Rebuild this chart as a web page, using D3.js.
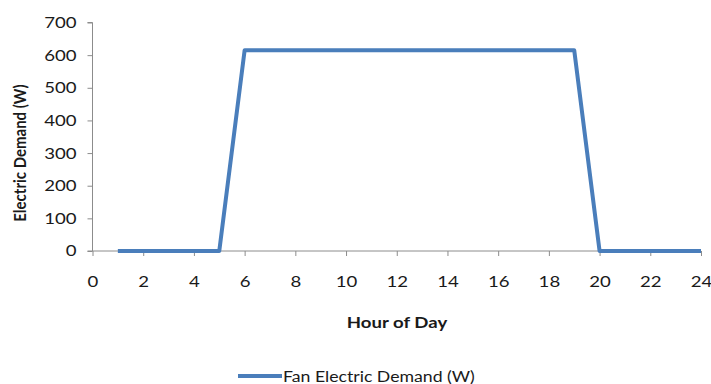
<!DOCTYPE html>
<html>
<head>
<meta charset="utf-8">
<script src="https://cdn.jsdelivr.net/npm/d3@7"></script>
<style>
  html, body { margin: 0; padding: 0; background: #fff; }
  svg { display: block; }
  text { font-family: Lato, "Open Sans", sans-serif; fill: #1a1a1a; }
</style>
</head>
<body>
<svg id="chart" width="711" height="384"></svg>
<script>
// Hourly fan electric demand (W)
const hours = [1, 2, 3, 4, 5, 6, 7, 8, 9, 10, 11, 12, 13, 14, 15, 16, 17, 18, 19, 20, 21, 22, 23, 24];
const demand = [0, 0, 0, 0, 0, 615, 615, 615, 615, 615, 615, 615, 615, 615, 615, 615, 615, 615, 615, 0, 0, 0, 0, 0];
const xTicks = [0, 2, 4, 6, 8, 10, 12, 14, 16, 18, 20, 22, 24];
const yTicks = [0, 100, 200, 300, 400, 500, 600, 700];
const seriesName = "Fan Electric Demand (W)";

const svg = d3.select("#chart");
const plot = { left: 92.5, right: 701, top: 22.5, bottom: 251 };
const stretch = 1.2;   // horizontal widening of the lettering
const fontSize = "15.5px";

const x = d3.scaleLinear().domain([0, 24]).range([plot.left, plot.right]);
const y = d3.scaleLinear().domain([0, 700]).range([plot.bottom, plot.top]);

const axisColor = "#8c8c8c";

// Widen a text element horizontally about its own anchor point
function widen(sel, k = stretch) {
  sel.each(function () {
    const t = d3.select(this);
    const tx = +t.attr("x") || 0;
    const ty = +t.attr("y") || 0;
    t.attr("x", 0).attr("y", 0)
     .attr("transform", `translate(${tx},${ty}) scale(${k},1)`);
  });
}

// Y axis
const yAxis = svg.append("g")
  .attr("transform", `translate(${plot.left},0)`)
  .call(d3.axisLeft(y).tickValues(yTicks).tickSize(5).tickPadding(11));
yAxis.select(".domain").attr("stroke", axisColor).attr("d", `M-5,${plot.top}H0V${plot.bottom}`);
yAxis.selectAll(".tick line").attr("stroke", axisColor);
yAxis.selectAll(".tick text").style("font-size", fontSize).attr("fill", "#1a1a1a").call(widen);

// X axis
const xAxis = svg.append("g")
  .attr("transform", `translate(0,${plot.bottom})`)
  .call(d3.axisBottom(x).tickValues(xTicks).tickSize(5).tickPadding(20));
xAxis.select(".domain").attr("stroke", axisColor).attr("d", `M${plot.left - 5},0H${plot.right}`);
xAxis.selectAll(".tick line").attr("stroke", axisColor);
xAxis.selectAll(".tick text").style("font-size", fontSize).attr("fill", "#1a1a1a").call(widen);

// Series line
const line = d3.line().x((d, i) => x(hours[i])).y(d => y(d));
svg.append("path")
  .datum(demand)
  .attr("fill", "none")
  .attr("stroke", "#4a7ebb")
  .attr("stroke-width", 4)
  .attr("stroke-linejoin", "round")
  .attr("d", line);

// Axis titles
svg.append("text")
  .attr("x", 397).attr("y", 328)
  .attr("text-anchor", "middle")
  .style("font-size", fontSize).style("font-weight", "bold")
  .text("Hour of Day")
  .call(widen);

svg.append("text")
  .attr("transform", "translate(26,153) rotate(-90) scale(1,1.15)")
  .attr("text-anchor", "middle")
  .style("font-size", "15px").style("font-weight", "bold")
  .text("Electric Demand (W)");

// Legend
const legend = svg.append("g").attr("transform", "translate(238,376)");
legend.append("line")
  .attr("x1", 0).attr("x2", 44).attr("y1", 0).attr("y2", 0)
  .attr("stroke", "#4a7ebb").attr("stroke-width", 4);
legend.append("text")
  .attr("x", 45).attr("y", 5.5)
  .style("font-size", fontSize)
  .text(seriesName)
  .call(widen, 1.14);
</script>
</body>
</html>
